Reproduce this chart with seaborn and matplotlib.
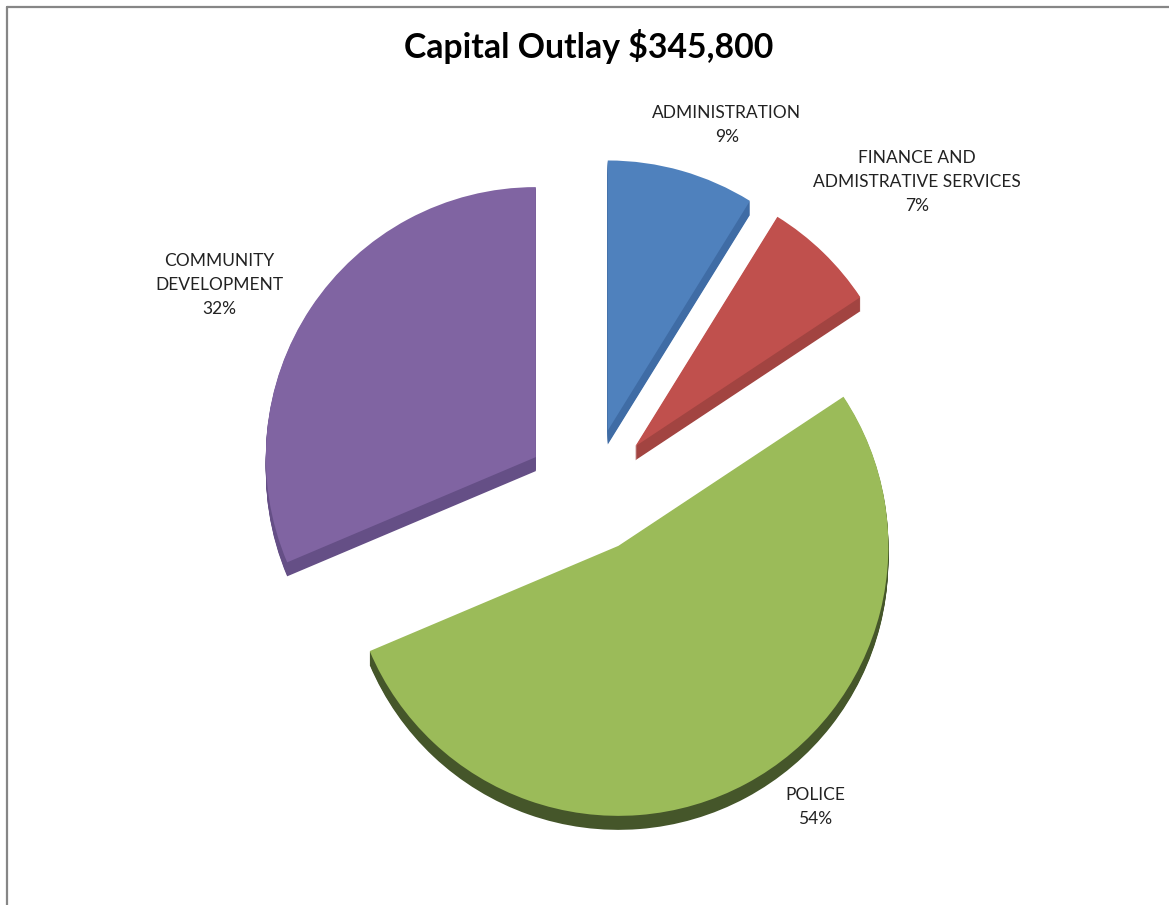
import matplotlib
matplotlib.use("Agg")
import matplotlib.pyplot as plt
import seaborn as sns
from matplotlib.lines import Line2D

# Capital outlay by department
title = "Capital Outlay $345,800"
departments = ["ADMINISTRATION",
               "FINANCE AND\nADMISTRATIVE SERVICES",
               "POLICE",
               "COMMUNITY\nDEVELOPMENT"]
shares = [9, 7, 54, 32]

top_colors = ["#4F81BD", "#C0504D", "#9BBB59", "#8064A2"]
side_colors = ["#3F6CA5", "#A24441", "#45562A", "#654F86"]

sns.set_theme(style="white")
plt.rcParams["font.family"] = ["Lato", "DejaVu Sans"]

W, H = 1169, 905
fig = plt.figure(figsize=(W / 100, H / 100), dpi=100)
ax = fig.add_axes([0, 0, 1, 1])

cx, cy = 590, H - 493
radius = 270
explode = [65, 65, 60, 65]
depth = 14

# extruded body of the pie, drawn as stacked darker copies
for d in range(depth, 0, -1):
    ax.pie(shares, radius=radius, center=(cx, cy - d), explode=explode,
           colors=side_colors, startangle=90, counterclock=False,
           frame=True, wedgeprops=dict(linewidth=0, antialiased=True))

# top face
ax.pie(shares, radius=radius, center=(cx, cy), explode=explode,
       colors=top_colors, startangle=90, counterclock=False,
       frame=True, wedgeprops=dict(linewidth=0, antialiased=True))

# data labels
label_pos = [(727, 125), (917, 182), (815, 807), (219, 285)]
for name, pct, (lx, ly) in zip(departments, shares, label_pos):
    ax.text(lx, H - ly, f"{name}\n{pct}%", ha="center", va="center",
            fontsize=12.5, color="#222222", linespacing=1.65)

ax.set_xlim(0, W)
ax.set_ylim(0, H)
ax.set_aspect("equal")
ax.axis("off")

fig.text(589 / W, 1 - 47 / H, title, ha="center", va="center",
         fontsize=24.3, fontweight="bold", color="black")

# chart area border
border = "#868686"
fig.add_artist(Line2D([6.5 / W, 1], [1 - 7.5 / H, 1 - 7.5 / H],
                      transform=fig.transFigure, color=border, lw=1.6))
fig.add_artist(Line2D([6.5 / W, 6.5 / W], [0, 1 - 7.5 / H],
                      transform=fig.transFigure, color=border, lw=1.6))

fig.savefig("out.png", dpi=100, facecolor="white")
